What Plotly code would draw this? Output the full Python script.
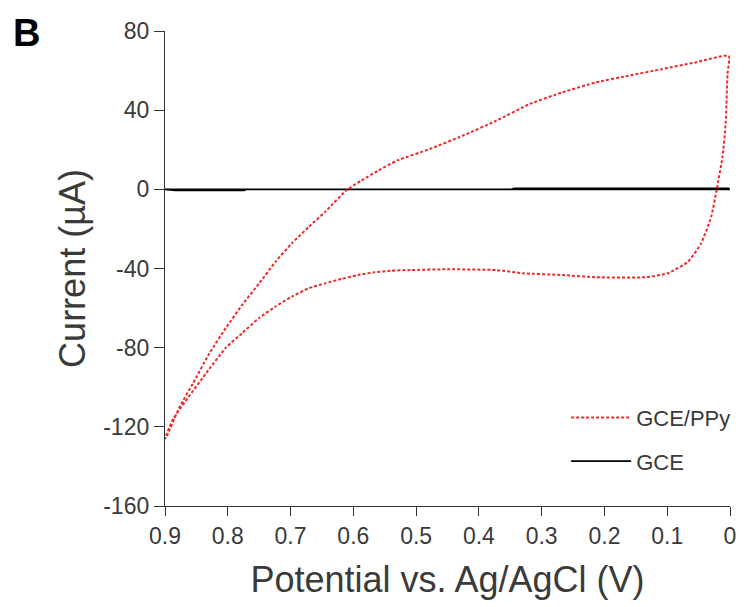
import plotly.graph_objects as go

# Cyclic voltammogram of the PPy-modified electrode (potential in V, current in µA)
# anodic branch 0.9 -> 0 V, then the return branch 0 -> 0.9 V
ppy_potential = [0.900, 0.897, 0.876, 0.855, 0.829, 0.803, 0.777, 0.750, 0.724, 0.698,
                 0.671, 0.645, 0.611, 0.587, 0.560, 0.530, 0.477, 0.425, 0.372, 0.319,
                 0.267, 0.214, 0.162, 0.109, 0.057, 0.002,
                 0.004, 0.007, 0.012, 0.021, 0.030, 0.046, 0.067, 0.099, 0.135, 0.214,
                 0.267, 0.330, 0.372, 0.451, 0.509, 0.540, 0.566, 0.593, 0.619, 0.645,
                 0.671, 0.698, 0.724, 0.750, 0.777, 0.803, 0.834, 0.887, 0.900]
ppy_current = [-126.0, -124.6, -109.5, -97.8, -82.7, -70.0, -58.4, -47.5, -36.6, -27.3,
               -19.0, -11.4, -0.5, 4.5, 9.5, 14.6, 20.5, 27.2, 34.7, 43.1,
               49.0, 54.0, 57.4, 60.7, 64.0, 67.4,
               58.2, 33.0, 16.3, 0.3, -13.9, -27.3, -36.6, -42.4, -44.4, -44.4,
               -43.3, -42.4, -40.8, -40.4, -40.8, -41.1, -41.9, -43.3, -45.3, -47.5,
               -50.0, -54.2, -59.2, -65.0, -72.6, -80.0, -92.7, -116.0, -126.0]

# Bare glassy carbon electrode: essentially flat around zero
gce_potential = [0.000, 0.344, 0.774, 0.900, 0.884, 0.774, 0.770, 0.348, 0.344, 0.001]
gce_current = [0.0, 0.0, 0.0, 0.0, -0.6, -0.6, 0.0, 0.0, 0.5, 0.5]

x_ticks = [0.9, 0.8, 0.7, 0.6, 0.5, 0.4, 0.3, 0.2, 0.1, 0.0]
x_tick_text = ["0.9", "0.8", "0.7", "0.6", "0.5", "0.4", "0.3", "0.2", "0.1", "0"]
y_ticks = [80, 40, 0, -40, -80, -120, -160]
y_tick_text = ["80", "40", "0", "-40", "-80", "-120", "-160"]

FONT = "Liberation Sans, Arial, sans-serif"
AXIS = "#333333"
TEXT = "#3a3a3a"

fig = go.Figure()
fig.add_trace(go.Scatter(
    x=gce_potential, y=gce_current, mode="lines", name="GCE",
    line=dict(color="#000000", width=1.6), legendrank=2, legendgroup="g2",
))
fig.add_trace(go.Scatter(
    x=ppy_potential, y=ppy_current, mode="lines", name="GCE/PPy",
    line=dict(color="#ee2a2a", width=2, dash="3px,2px", shape="spline", smoothing=0.5),
    legendrank=1, legendgroup="g1",
))

fig.update_layout(
    width=744, height=607,
    margin=dict(l=165, r=8, t=31, b=101),
    paper_bgcolor="white", plot_bgcolor="white",
    font=dict(family=FONT, color=TEXT),
    showlegend=True,
    legend=dict(
        x=0.71, y=0.23, xanchor="left", yanchor="top",
        font=dict(size=22, color=TEXT, family=FONT),
        bgcolor="rgba(0,0,0,0)", itemwidth=60, tracegroupgap=12,
    ),
    annotations=[dict(
        text="<b>B</b>", x=-0.272, y=1.045, xref="paper", yref="paper",
        xanchor="left", yanchor="top", showarrow=False,
        font=dict(size=38, color="#000000", family=FONT),
    )],
)

fig.update_xaxes(
    range=[0.9, 0.0], autorange=False, automargin=False,
    tickmode="array", tickvals=x_ticks, ticktext=x_tick_text,
    ticks="outside", ticklen=9, tickwidth=1.3, tickcolor=AXIS,
    showline=True, linecolor=AXIS, linewidth=1.3,
    showgrid=False, zeroline=False,
    tickfont=dict(size=23, color=TEXT, family=FONT),
    title=dict(text="Potential vs. Ag/AgCl (V)", font=dict(size=36, color=TEXT, family=FONT), standoff=19),
)
fig.update_yaxes(
    range=[-160, 80], autorange=False, automargin=False,
    tickmode="array", tickvals=y_ticks, ticktext=y_tick_text,
    ticks="outside", ticklen=10, tickwidth=1.3, tickcolor=AXIS,
    showline=True, linecolor=AXIS, linewidth=1.3,
    showgrid=False, zeroline=True, zerolinecolor="#000000", zerolinewidth=1.2,
    tickfont=dict(size=23, color=TEXT, family=FONT),
    title=dict(text="Current (µA)", font=dict(size=36, color=TEXT, family=FONT), standoff=6),
)

fig.write_html("out.html")
